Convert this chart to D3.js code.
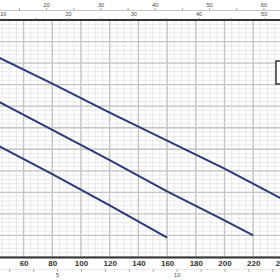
<!DOCTYPE html>
<html>
<head>
<meta charset="utf-8">
<script src="https://cdn.jsdelivr.net/npm/d3@7"></script>
<style>
  body { margin: 0; background: #fff; }
  svg { display: block; font-family: "DejaVu Sans", Arial, sans-serif; }
</style>
</head>
<body>
<svg id="chart" width="280" height="280"></svg>
<script>
// Pump curves: head vs flow (l/min), with extra flow scales top and bottom

// flow values (l/min) and head values for each curve
let flowA = [0, 40, 80, 120, 160, 200, 240, 260]
let headA = [21.3, 18.7, 16.1, 13.4, 10.8, 8.2, 5.4, 4.0]
let flowB = [0, 40, 80, 120, 160, 200, 220]
let headB = [17.5, 14.6, 11.8, 9.0, 6.1, 3.4, 2.0]
let flowC = [0, 40, 80, 120, 160]
let headC = [13.2, 10.5, 7.7, 4.8, 1.8]

// tick labels
let lpmTicks = [60, 80, 100, 120, 140, 160, 180, 200, 220, 240]
let m3hLabels = [5, 10]
let gpmLabels = [20, 30, 40, 50, 60]
let impLabels = [10, 20, 30, 40, 50]

const svg = d3.select('#chart')
const W = 280
const plotTop = 20, plotBottom = 257

// scales (flow axis starts left of the visible area)
const x = d3.scaleLinear().domain([0, 240]).range([-62.5, 281.9])
const y = d3.scaleLinear().domain([0, 22]).range([plotBottom, plotTop])

svg.append('defs').append('clipPath').attr('id', 'clip')
    .append('rect').attr('x', 0).attr('y', plotTop).attr('width', W).attr('height', plotBottom - plotTop)

let grid = svg.append('g').attr('clip-path', 'url(#clip)')

// minor grid
grid.selectAll('.vmin').data(d3.range(0, 245, 5)).join('line')
    .attr('x1', d => x(d)).attr('x2', d => x(d)).attr('y1', plotTop).attr('y2', plotBottom)
    .attr('stroke', '#e3e3e3').attr('stroke-width', 0.8)
grid.selectAll('.hmin').data(d3.range(0, 22.01, 0.4)).join('line')
    .attr('x1', 0).attr('x2', W).attr('y1', d => y(d)).attr('y2', d => y(d))
    .attr('stroke', '#e3e3e3').attr('stroke-width', 0.8)

// major grid
grid.selectAll('.vmaj').data(d3.range(0, 245, 20)).join('line')
    .attr('x1', d => x(d)).attr('x2', d => x(d)).attr('y1', plotTop).attr('y2', plotBottom)
    .attr('stroke', '#c4c4c4').attr('stroke-width', 1.3)
grid.selectAll('.hmaj').data(d3.range(0, 22.01, 2)).join('line')
    .attr('x1', 0).attr('x2', W).attr('y1', d => y(d)).attr('y2', d => y(d))
    .attr('stroke', '#c4c4c4').attr('stroke-width', 1.3)

// curves
const line = d3.line().x(d => x(d[0])).y(d => y(d[1]))
let curves = [d3.zip(flowA, headA), d3.zip(flowB, headB), d3.zip(flowC, headC)]
grid.selectAll('.curve').data(curves).join('path')
    .attr('d', line)
    .attr('fill', 'none')
    .attr('stroke', '#2c3a78')
    .attr('stroke-width', 2)

// legend box cut off on the right
svg.append('rect').attr('x', 276).attr('y', 61).attr('width', 20).attr('height', 23)
    .attr('fill', '#fff').attr('stroke', '#333').attr('stroke-width', 1.5)

// frame line at the top
svg.append('line').attr('x1', 0).attr('x2', W).attr('y1', plotTop).attr('y2', plotTop)
    .attr('stroke', '#333').attr('stroke-width', 2)

// bottom l/min axis
let axB = svg.append('g').attr('transform', 'translate(0,' + plotBottom + ')')
    .call(d3.axisBottom(x).tickValues(lpmTicks).tickSize(0).tickPadding(3))
axB.select('.domain').attr('stroke', '#333').attr('stroke-width', 2.2)
axB.selectAll('text').attr('font-size', 8).attr('font-weight', 'bold').attr('fill', '#333')

// bottom m3/h axis
const xm3 = d3.scaleLinear().domain([0, 240 * 60 / 1000]).range(x.range())
let axM = svg.append('g').attr('transform', 'translate(0,269)')
    .call(d3.axisBottom(xm3).tickValues(d3.range(0, 15)).tickSize(3).tickPadding(1.5)
        .tickFormat(d => m3hLabels.includes(d) ? d : ''))
axM.select('.domain').attr('stroke', '#ddd').attr('stroke-width', 0.6)
axM.selectAll('line').attr('stroke', '#888').attr('stroke-width', 0.7)
axM.selectAll('text').attr('font-size', 5.5).attr('fill', '#444')

// top US gpm axis
const xg = d3.scaleLinear().domain([0, 240 / 3.785]).range(x.range())
let axG = svg.append('g').attr('transform', 'translate(0,10)')
    .call(d3.axisTop(xg).tickValues(d3.range(5, 65, 5)).tickSize(2).tickPadding(1.5)
        .tickFormat(d => gpmLabels.includes(d) ? d : ''))
axG.select('.domain').attr('stroke', '#999').attr('stroke-width', 0.6)
axG.selectAll('line').attr('stroke', '#777').attr('stroke-width', 0.7)
axG.selectAll('text').attr('font-size', 5.5).attr('fill', '#444')

// top imperial gpm axis
const xi = d3.scaleLinear().domain([0, 240 / 4.546]).range(x.range())
let axI = svg.append('g').attr('transform', 'translate(0,' + plotTop + ')')
    .call(d3.axisTop(xi).tickValues(d3.range(5, 55, 5)).tickSize(2).tickPadding(2)
        .tickFormat(d => impLabels.includes(d) ? d : ''))
axI.select('.domain').remove()
axI.selectAll('line').attr('stroke', '#777').attr('stroke-width', 0.7)
axI.selectAll('text').attr('font-size', 5.5).attr('fill', '#444')
</script>
</body>
</html>
